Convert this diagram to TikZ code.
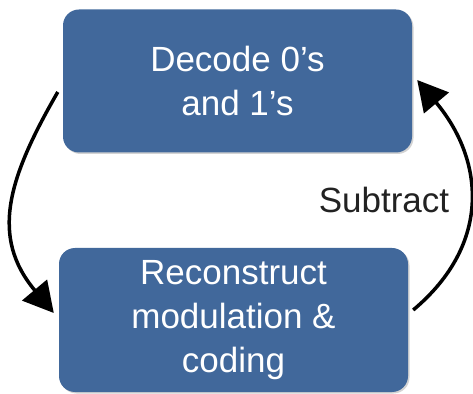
\documentclass[tikz,border=0pt]{standalone}
\usepackage{fontspec}
\setmainfont{Liberation Sans}
\usetikzlibrary{arrows.meta,shadows}
\definecolor{boxblue}{RGB}{65,104,155}
\definecolor{labelgray}{RGB}{34,34,34}

\begin{document}
\begin{tikzpicture}[
      x=1pt,y=1pt,
      stage/.style={fill=boxblue,text=white,rounded corners=16pt,
        minimum width=349pt,align=center,inner sep=0pt,
        font=\fontsize{35}{44}\selectfont,
        drop shadow={opacity=0.35,shadow xshift=1.5pt,shadow yshift=-1.5pt}},
      loop/.style={-{Triangle[length=30pt,width=32pt]},line width=3.5pt,
        looseness=1.15}
    ]
      \useasboundingbox (0,0) rectangle (473,393);
      \node[stage,minimum height=143pt] (decode) at (237.5,312) {Decode 0’s\\and 1’s};
      \node[stage,minimum height=144pt] (recon) at (233.5,73) {Reconstruct\\modulation \&\\coding};
      \node[text=labelgray,font=\fontsize{35}{44}\selectfont] (sub) at (384,193) {Subtract};
      \draw[loop] ([xshift=-5pt,yshift=-11pt]decode.west)
        to[out=240,in=130] ([xshift=-5pt,yshift=7pt]recon.west);
      \draw[loop] ([xshift=5pt,yshift=10pt]recon.east)
        to[out=40,in=-50] ([xshift=5pt,yshift=1pt]decode.east);
    \end{tikzpicture}
\end{document}
